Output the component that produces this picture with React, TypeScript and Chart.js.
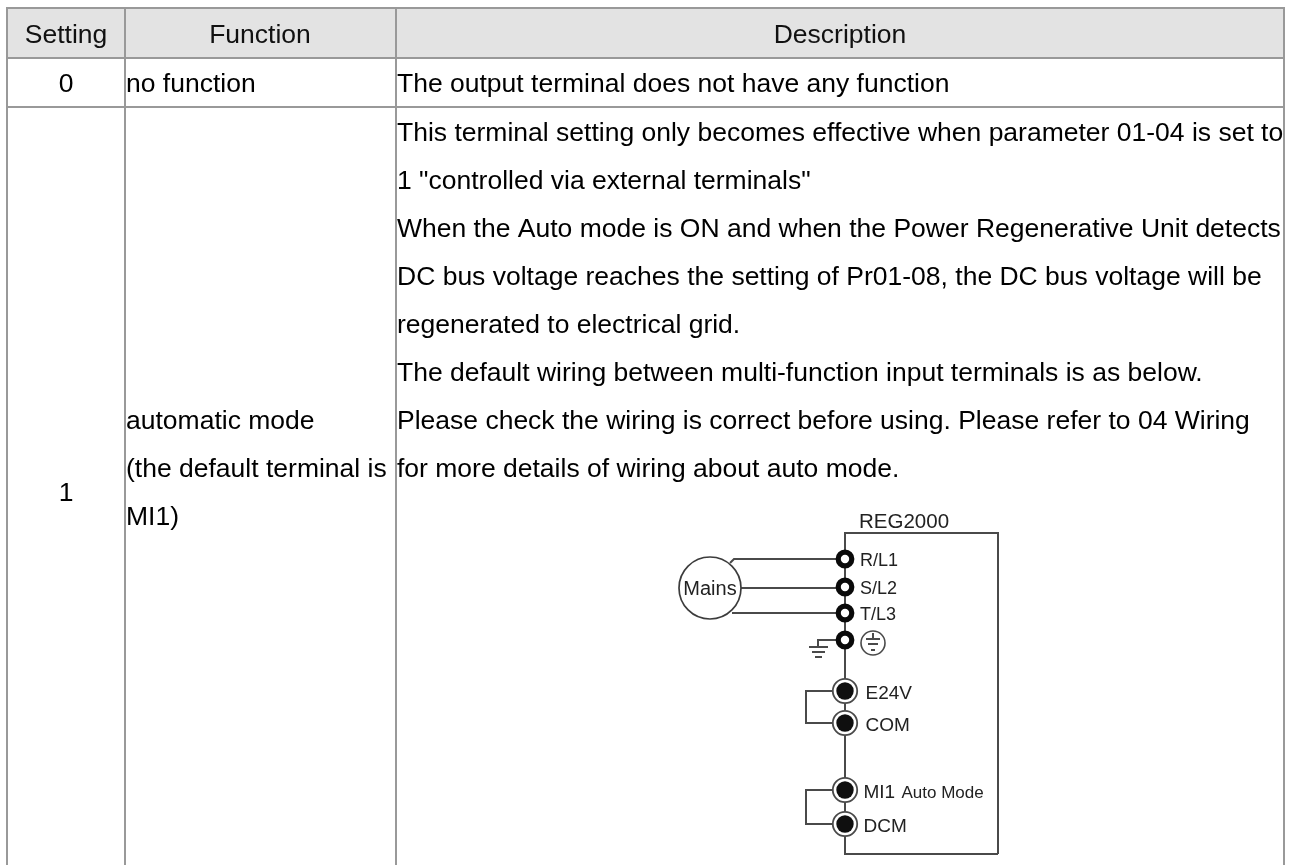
import React, { useEffect, useRef } from "react";
import { Chart, registerables } from "chart.js";

Chart.register(...registerables);

// Table content
const columnHeaders = ["Setting", "Function", "Description"];
const settingValues = ["0", "1"];
const noFunctionName = "no function";
const noFunctionText = "The output terminal does not have any function";
const functionLines = ["automatic mode", "(the default terminal is", "MI1)"];
const descriptionLines = [
  'This terminal setting only becomes effective when parameter 01-04 is set to',
  '1 "controlled via external terminals"',
  "When the Auto mode is ON and when the Power Regenerative Unit detects",
  "DC bus voltage reaches the setting of Pr01-08, the DC bus voltage will be",
  "regenerated to electrical grid.",
  "The default wiring between multi-function input terminals is as below.",
  "Please check the wiring is correct before using. Please refer to 04 Wiring",
  "for more details of wiring about auto mode.",
];

// Table geometry (scale units equal page pixels)
const columnEdges = [7, 125, 396, 1284];
const rowEdges = [8, 58, 107];
const tableBottom = 865;
const columnCentres = [66, 260, 840];
const headerBaseline = 43;
const row0Baseline = 92;
const row1SettingBaseline = 501;
const firstDescriptionBaseline = 141;
const lineStep = 48;
const functionFirstBaseline = 429;
const cellTextX = 397;
const functionTextX = 126;

// Wiring diagram
const deviceName = "REG2000";
const mainsName = "Mains";
const powerTerminalNames = ["R/L1", "S/L2", "T/L3"];
const powerTerminalY = [559, 587, 613];
const groundTerminalY = 640;
const controlTerminalNames = ["E24V", "COM", "MI1", "DCM"];
const controlTerminalY = [691, 723, 790, 824];
const autoModeNote = "Auto Mode";
const terminalX = 845;
const mainsCentre = { x: 710, y: 588 };
const earthSymbolCentre = { x: 873, y: 643 };

const diagramWires: number[][][] = [
  [[998, 854], [998, 533], [845, 533], [845, 854], [998, 854]],
  [[730, 563], [734, 559], [845, 559]],
  [[741, 588], [845, 588]],
  [[732, 613], [845, 613]],
  [[845, 691], [806, 691], [806, 723], [845, 723]],
  [[845, 790], [806, 790], [806, 824], [845, 824]],
  [[845, 640], [818, 640], [818, 647]],
  [[809, 647], [828, 647]],
  [[812, 652], [825, 652]],
  [[815, 657], [822, 657]],
  [[873, 633], [873, 639]],
  [[866, 639], [880, 639]],
  [[868, 644], [878, 644]],
  [[871, 650], [875, 650]],
];

const tableLineColor = "#999999";
const headerFill = "#e3e3e3";
const wireColor = "#4a4a4a";
const bodyFont = '26.5px "Liberation Sans", Arial, sans-serif';

const toPoints = (pairs: number[][]) => pairs.map(([x, y]) => ({ x, y }));

const tablePlugin = {
  id: "tablePlugin",
  beforeDatasetsDraw(chart: any) {
    const { ctx, scales } = chart;
    const px = (v: number) => scales.x.getPixelForValue(v);
    const py = (v: number) => scales.y.getPixelForValue(v);
    ctx.save();
    ctx.fillStyle = headerFill;
    ctx.fillRect(
      px(columnEdges[0]),
      py(rowEdges[0]),
      px(columnEdges[3]) - px(columnEdges[0]),
      py(rowEdges[1]) - py(rowEdges[0])
    );
    ctx.restore();
  },
  afterDatasetsDraw(chart: any) {
    const { ctx, scales } = chart;
    const px = (v: number) => scales.x.getPixelForValue(v);
    const py = (v: number) => scales.y.getPixelForValue(v);
    const text = (
      s: string,
      x: number,
      y: number,
      font: string,
      align: CanvasTextAlign = "left",
      color = "#000000"
    ) => {
      ctx.font = font;
      ctx.textAlign = align;
      ctx.textBaseline = "alphabetic";
      ctx.fillStyle = color;
      ctx.fillText(s, px(x), py(y));
    };
    ctx.save();
    columnHeaders.forEach((h, i) =>
      text(h, columnCentres[i], headerBaseline, bodyFont, "center", "#111111")
    );
    text(settingValues[0], columnCentres[0], row0Baseline, bodyFont, "center");
    text(settingValues[1], columnCentres[0], row1SettingBaseline, bodyFont, "center");
    text(noFunctionName, functionTextX, row0Baseline, bodyFont);
    text(noFunctionText, cellTextX, row0Baseline, bodyFont);
    descriptionLines.forEach((l, i) =>
      text(l, cellTextX, firstDescriptionBaseline + i * lineStep, bodyFont)
    );
    functionLines.forEach((l, i) =>
      text(l, functionTextX, functionFirstBaseline + i * lineStep, bodyFont)
    );

    const dark = "#222222";
    const f = (n: number) => `${n}px "Liberation Sans", Arial, sans-serif`;
    text(deviceName, 859, 528, f(20.5), "left", dark);
    text(mainsName, mainsCentre.x, 595, f(20), "center", dark);
    powerTerminalNames.forEach((n, i) =>
      text(n, 860, powerTerminalY[i] + 7, f(18), "left", dark)
    );
    controlTerminalNames.forEach((n, i) =>
      text(n, i < 2 ? 865.5 : 863.5, controlTerminalY[i] + 8, f(19), "left", dark)
    );
    text(autoModeNote, 901.5, controlTerminalY[2] + 8, f(17), "left", dark);
    ctx.restore();
  },
};

export default function App() {
  const ref = useRef<HTMLCanvasElement | null>(null);

  useEffect(() => {
    document.body.style.margin = "0";
    document.body.style.background = "#ffffff";
    const lines = (pairs: number[][], color: string, width: number, order: number) => ({
      type: "scatter" as const,
      data: toPoints(pairs),
      showLine: true,
      borderColor: color,
      borderWidth: width,
      pointRadius: 0,
      tension: 0,
      order,
    });
    const tableRules = [
      ...columnEdges.map((x) => [[x, rowEdges[0] - 1], [x, tableBottom]]),
      ...rowEdges.map((y) => [[columnEdges[0] - 1, y], [columnEdges[3] + 1, y]]),
    ];
    const marker = (
      pairs: number[][],
      radius: number,
      fill: string,
      border: string,
      borderWidth: number,
      order: number
    ) => ({
      type: "scatter" as const,
      data: toPoints(pairs),
      showLine: false,
      pointRadius: radius,
      pointBackgroundColor: fill,
      pointBorderColor: border,
      pointBorderWidth: borderWidth,
      order,
    });
    const chart = new Chart(ref.current!, {
      type: "scatter",
      data: {
        datasets: [
          ...tableRules.map((r) => lines(r, tableLineColor, 2, 10)),
          ...diagramWires.map((w) => lines(w, wireColor, 2, 9)),
          marker([[mainsCentre.x, mainsCentre.y]], 31, "rgba(255,255,255,0)", "#3c3c3c", 1.7, 8),
          marker([[earthSymbolCentre.x, earthSymbolCentre.y]], 12, "rgba(255,255,255,0)", "#4a4a4a", 1.6, 8),
          marker(
            [...powerTerminalY, groundTerminalY].map((y) => [terminalX, y]),
            6.8,
            "#ffffff",
            "#0a0a0a",
            5.2,
            3
          ),
          marker(controlTerminalY.map((y) => [terminalX, y]), 12.2, "#ffffff", "#4a4a4a", 1.8, 2),
          marker(controlTerminalY.map((y) => [terminalX, y]), 8.7, "#0f0f0f", "#0f0f0f", 0, 1),
        ] as any,
      },
      options: {
        animation: false,
        responsive: false,
        layout: { padding: 0, autoPadding: false },
        scales: {
          x: { type: "linear", min: 0, max: 1298, display: false },
          y: { type: "linear", min: 0, max: 865, reverse: true, display: false },
        },
        plugins: { legend: { display: false }, title: { display: false }, tooltip: { enabled: false } },
        events: [],
      } as any,
      plugins: [tablePlugin],
    });
    return () => chart.destroy();
  }, []);

  return (
    <canvas
      ref={ref}
      width={1298}
      height={865}
      style={{ display: "block", position: "absolute", left: 0, top: 0, width: 1298, height: 865 }}
    />
  );
}
